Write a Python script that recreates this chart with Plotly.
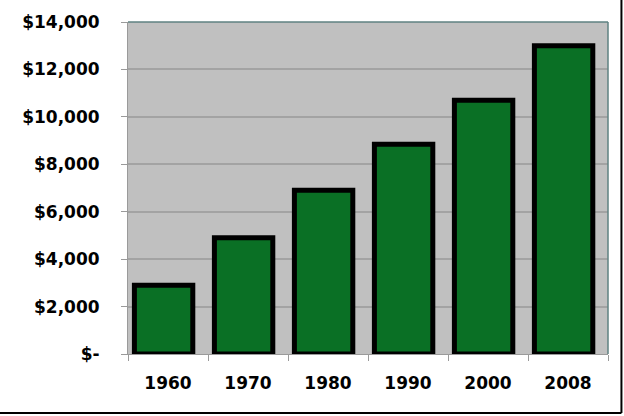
import plotly.graph_objects as go

years = ["1960", "1970", "1980", "1990", "2000", "2008"]
values = [2900, 4900, 6900, 8850, 10700, 13000]
y_ticks = [0, 2000, 4000, 6000, 8000, 10000, 12000, 14000]
y_labels = ["$-", "$2,000", "$4,000", "$6,000", "$8,000", "$10,000", "$12,000", "$14,000"]

fig = go.Figure()
fig.add_trace(go.Bar(
    x=years, y=values,
    marker=dict(color="#0a7025", line=dict(color="#000000", width=5)),
    width=0.73, offset=-0.42,
))

font_family = "'DejaVu Sans', sans-serif"
fig.update_layout(
    width=624, height=416,
    margin=dict(l=128, r=16, t=19, b=62),
    paper_bgcolor="#ffffff",
    plot_bgcolor="#c0c0c0",
    showlegend=False,
    xaxis=dict(
        type="category",
        showgrid=False,
        showline=True, linecolor="#9a9a9a", linewidth=1,
        ticks="outside", ticklen=6, tickcolor="#9a9a9a",
        tickson="boundaries",
        ticklabelstandoff=14,
        tickfont=dict(family=font_family, size=17, color="#000000", weight="bold"),
    ),
    yaxis=dict(
        range=[0, 14000],
        tickvals=y_ticks, ticktext=y_labels,
        showgrid=True, gridcolor="#a3a3a3", gridwidth=1.5,
        showline=True, linecolor="#9a9a9a", linewidth=1,
        ticks="outside", ticklen=6, tickcolor="#9a9a9a",
        ticklabelstandoff=18,
        tickfont=dict(family=font_family, size=17, color="#000000", weight="bold"),
        zeroline=False,
    ),
    shapes=[
        dict(type="line", xref="paper", yref="paper", x0=0, x1=1, y0=1, y1=1,
             line=dict(color="#5f8282", width=1.5)),
        dict(type="line", xref="paper", yref="paper", x0=1, x1=1, y0=0, y1=1,
             line=dict(color="#5f8282", width=1.5)),
        dict(type="line", xref="paper", yref="paper", x0=-0.3, x1=1.028,
             y0=-0.1776, y1=-0.1776, line=dict(color="#000000", width=2)),
        dict(type="line", xref="paper", yref="paper", x0=1.028, x1=1.028,
             y0=-0.1776, y1=1.1, line=dict(color="#000000", width=2)),
    ],
)

fig.write_html("out.html", config={"displayModeBar": False},
               post_script="document.body.style.margin='0';")
